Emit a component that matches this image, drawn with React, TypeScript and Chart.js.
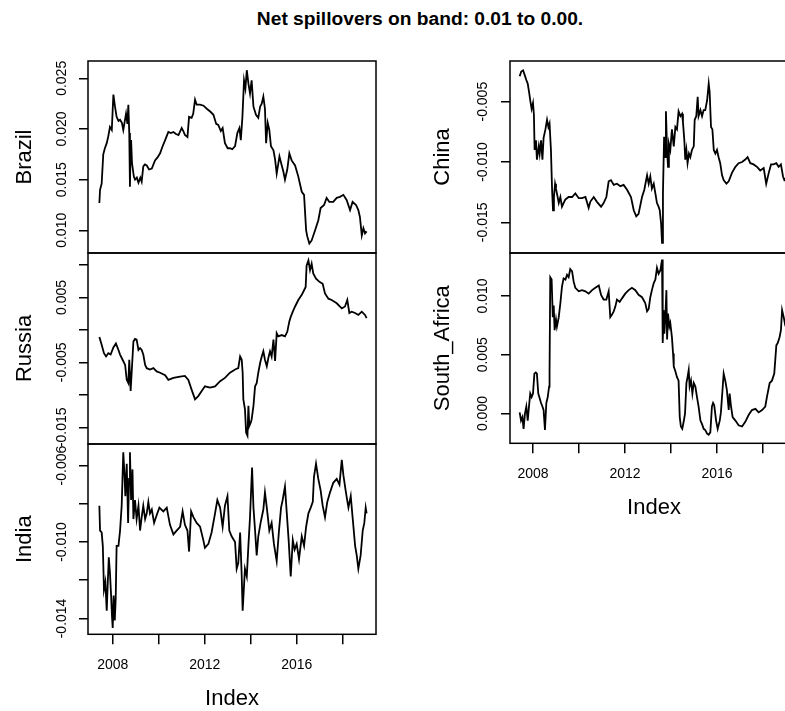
import React, { useEffect, useRef } from 'react';
import { Chart, registerables } from 'chart.js';

Chart.register(...registerables);

const FONT = '"Liberation Sans", Arial, Helvetica, sans-serif';
const MAIN_TITLE = 'Net spillovers on band: 0.01 to 0.00.';
const X_TITLE = 'Index';
const TICK_FONT_SIZE = 14;

// x-axis ticks (years) and the labels R printed (others skipped)
const yearTicks = [2008, 2010, 2012, 2014, 2016, 2018];
const yearLabels = ['2008', '', '2012', '', '2016', ''];

// y-axis ticks per panel
const brazilTicks = [0.01, 0.015, 0.02, 0.025];
const brazilTickLabels = ['0.010', '0.015', '0.020', '0.025'];
const russiaTicks = [-0.015, -0.01, -0.005, 0, 0.005, 0.01];
const russiaTickLabels = ['-0.015', '', '-0.005', '', '0.005', ''];
const indiaTicks = [-0.014, -0.012, -0.01, -0.008, -0.006];
const indiaTickLabels = ['-0.014', '', '-0.010', '', '-0.006'];
const chinaTicks = [-0.015, -0.01, -0.005];
const chinaTickLabels = ['-0.015', '-0.010', '-0.005'];
const safricaTicks = [0, 0.005, 0.01];
const safricaTickLabels = ['0.000', '0.005', '0.010'];

// series: [decimal year, net spillover]
const brazilSeries: [number, number][] = [
  [2007.42,0.0127],[2007.45,0.0140],[2007.52,0.0146],[2007.59,0.0175],[2007.66,0.0181],[2007.74,0.0186],[2007.81,0.0193],[2007.88,0.0202],[2007.96,0.0199],[2008.00,0.0219],[2008.03,0.0234],[2008.10,0.0222],[2008.17,0.0212],[2008.25,0.0208],[2008.32,0.0209],[2008.40,0.0206],[2008.46,0.0199],[2008.52,0.0207],[2008.58,0.0215],[2008.64,0.0205],[2008.68,0.0224],[2008.72,0.0196],[2008.75,0.0143],[2008.78,0.0185],[2008.80,0.0189],[2008.84,0.0166],[2008.87,0.0166],[2008.92,0.0153],[2008.97,0.0150],[2009.05,0.0152],[2009.12,0.0147],[2009.20,0.0152],[2009.26,0.0148],[2009.33,0.0163],[2009.40,0.0165],[2009.48,0.0164],[2009.58,0.0160],[2009.70,0.0161],[2009.84,0.0169],[2009.95,0.0172],[2010.06,0.0176],[2010.17,0.0183],[2010.28,0.0189],[2010.42,0.0197],[2010.53,0.0196],[2010.64,0.0197],[2010.75,0.0195],[2010.86,0.0194],[2011.00,0.0201],[2011.07,0.0198],[2011.14,0.0194],[2011.25,0.0192],[2011.32,0.0212],[2011.43,0.0211],[2011.50,0.0215],[2011.58,0.0229],[2011.65,0.0224],[2011.80,0.0224],[2011.95,0.0223],[2012.09,0.0220],[2012.25,0.0217],[2012.38,0.0214],[2012.50,0.0205],[2012.59,0.0204],[2012.70,0.0198],[2012.78,0.0201],[2012.88,0.0186],[2013.00,0.0181],[2013.10,0.0181],[2013.20,0.0180],[2013.32,0.0183],[2013.42,0.0196],[2013.51,0.0201],[2013.57,0.0189],[2013.64,0.0212],[2013.71,0.0248],[2013.77,0.0240],[2013.83,0.0258],[2013.90,0.0245],[2013.97,0.0235],[2014.04,0.0248],[2014.12,0.0222],[2014.23,0.0214],[2014.33,0.0211],[2014.41,0.0222],[2014.48,0.0225],[2014.55,0.0232],[2014.62,0.0220],[2014.67,0.0186],[2014.74,0.0206],[2014.81,0.0199],[2014.88,0.0183],[2014.99,0.0179],[2015.06,0.0170],[2015.13,0.0156],[2015.25,0.0173],[2015.35,0.0164],[2015.42,0.0158],[2015.49,0.0150],[2015.59,0.0160],[2015.68,0.0176],[2015.78,0.0169],[2015.93,0.0164],[2016.07,0.0153],[2016.15,0.0145],[2016.22,0.0138],[2016.32,0.0135],[2016.41,0.0100],[2016.46,0.0094],[2016.55,0.0087],[2016.65,0.0090],[2016.80,0.0100],[2016.94,0.0110],[2017.04,0.0122],[2017.19,0.0125],[2017.30,0.0132],[2017.42,0.0128],[2017.59,0.0128],[2017.74,0.0132],[2017.88,0.0133],[2018.03,0.0135],[2018.17,0.0130],[2018.32,0.0120],[2018.43,0.0128],[2018.58,0.0125],[2018.68,0.0120],[2018.75,0.0113],[2018.83,0.0095],[2018.90,0.0102],[2018.97,0.0097],[2019.04,0.0099]
];

const russiaSeries: [number, number][] = [
  [2007.42,-0.0011],[2007.52,-0.0023],[2007.62,-0.0036],[2007.71,-0.0041],[2007.81,-0.0036],[2007.91,-0.0038],[2008.03,-0.0027],[2008.14,-0.0021],[2008.25,-0.0031],[2008.32,-0.0038],[2008.43,-0.0046],[2008.54,-0.0054],[2008.61,-0.0077],[2008.68,-0.0082],[2008.72,-0.0046],[2008.78,-0.0094],[2008.84,-0.0056],[2008.90,-0.0018],[2008.97,-0.0014],[2009.04,-0.0015],[2009.12,-0.0031],[2009.19,-0.0028],[2009.26,-0.0031],[2009.33,-0.0038],[2009.41,-0.0054],[2009.48,-0.0059],[2009.62,-0.0061],[2009.77,-0.0059],[2009.91,-0.0064],[2010.06,-0.0066],[2010.28,-0.0070],[2010.42,-0.0077],[2010.64,-0.0074],[2010.93,-0.0072],[2011.14,-0.0071],[2011.29,-0.0077],[2011.43,-0.0092],[2011.58,-0.0107],[2011.72,-0.0102],[2011.87,-0.0094],[2012.01,-0.0087],[2012.23,-0.0089],[2012.45,-0.0087],[2012.67,-0.0079],[2012.88,-0.0074],[2013.10,-0.0066],[2013.32,-0.0061],[2013.46,-0.0059],[2013.54,-0.0041],[2013.61,-0.0046],[2013.65,-0.0066],[2013.68,-0.0107],[2013.75,-0.0122],[2013.80,-0.0158],[2013.86,-0.0163],[2013.90,-0.0117],[2013.94,-0.0148],[2014.00,-0.0143],[2014.04,-0.0138],[2014.12,-0.0117],[2014.19,-0.0087],[2014.26,-0.0082],[2014.33,-0.0066],[2014.41,-0.0051],[2014.48,-0.0041],[2014.55,-0.0033],[2014.62,-0.0046],[2014.70,-0.0056],[2014.77,-0.0043],[2014.84,-0.0033],[2014.91,-0.0041],[2014.99,-0.0015],[2015.06,-0.0048],[2015.13,-0.0005],[2015.20,-0.0010],[2015.35,-0.0008],[2015.49,-0.0010],[2015.59,-0.0003],[2015.68,0.0013],[2015.74,0.0020],[2015.83,0.0028],[2015.93,0.0036],[2016.07,0.0046],[2016.22,0.0054],[2016.32,0.0061],[2016.39,0.0066],[2016.43,0.0099],[2016.51,0.0107],[2016.58,0.0092],[2016.65,0.0102],[2016.72,0.0087],[2016.84,0.0079],[2016.99,0.0074],[2017.13,0.0071],[2017.23,0.0056],[2017.38,0.0048],[2017.52,0.0046],[2017.74,0.0041],[2017.96,0.0033],[2018.10,0.0036],[2018.20,0.0046],[2018.29,0.0026],[2018.39,0.0028],[2018.54,0.0026],[2018.68,0.0023],[2018.83,0.0028],[2018.97,0.0023],[2019.04,0.0018]
];

const indiaSeries: [number, number][] = [
  [2007.42,-0.0081],[2007.45,-0.0094],[2007.52,-0.0095],[2007.57,-0.0102],[2007.62,-0.0125],[2007.68,-0.0121],[2007.74,-0.0136],[2007.78,-0.0123],[2007.83,-0.0108],[2007.88,-0.0116],[2007.93,-0.0128],[2007.97,-0.0139],[2008.00,-0.0145],[2008.04,-0.0128],[2008.09,-0.0141],[2008.13,-0.0130],[2008.17,-0.0102],[2008.25,-0.0102],[2008.32,-0.0094],[2008.39,-0.0081],[2008.46,-0.0053],[2008.51,-0.0064],[2008.55,-0.0076],[2008.61,-0.0059],[2008.67,-0.0090],[2008.71,-0.0067],[2008.75,-0.0053],[2008.80,-0.0078],[2008.86,-0.0062],[2008.90,-0.0088],[2008.97,-0.0078],[2009.04,-0.0088],[2009.12,-0.0081],[2009.19,-0.0094],[2009.26,-0.0087],[2009.33,-0.0081],[2009.41,-0.0088],[2009.48,-0.0085],[2009.55,-0.0079],[2009.62,-0.0085],[2009.70,-0.0083],[2009.80,-0.0090],[2009.91,-0.0086],[2010.03,-0.0082],[2010.20,-0.0084],[2010.35,-0.0082],[2010.49,-0.0091],[2010.64,-0.0096],[2010.78,-0.0094],[2010.93,-0.0092],[2011.04,-0.0084],[2011.14,-0.0091],[2011.25,-0.0094],[2011.32,-0.0105],[2011.41,-0.0084],[2011.51,-0.0087],[2011.65,-0.0090],[2011.80,-0.0092],[2011.94,-0.0099],[2012.01,-0.0103],[2012.16,-0.0101],[2012.30,-0.0095],[2012.45,-0.0085],[2012.55,-0.0078],[2012.67,-0.0082],[2012.78,-0.0092],[2012.88,-0.0081],[2012.99,-0.0076],[2013.07,-0.0094],[2013.17,-0.0097],[2013.32,-0.0100],[2013.39,-0.0114],[2013.46,-0.0111],[2013.54,-0.0095],[2013.61,-0.0118],[2013.65,-0.0136],[2013.75,-0.0114],[2013.83,-0.0118],[2013.90,-0.0102],[2013.97,-0.0087],[2014.06,-0.0061],[2014.12,-0.0082],[2014.19,-0.0094],[2014.26,-0.0107],[2014.33,-0.0097],[2014.43,-0.0090],[2014.55,-0.0083],[2014.62,-0.0074],[2014.70,-0.0082],[2014.81,-0.0094],[2014.91,-0.0090],[2015.01,-0.0101],[2015.13,-0.0110],[2015.23,-0.0094],[2015.32,-0.0082],[2015.39,-0.0078],[2015.49,-0.0071],[2015.57,-0.0085],[2015.65,-0.0099],[2015.74,-0.0118],[2015.83,-0.0099],[2015.91,-0.0104],[2016.00,-0.0101],[2016.10,-0.0109],[2016.22,-0.0097],[2016.32,-0.0102],[2016.41,-0.0092],[2016.51,-0.0085],[2016.61,-0.0082],[2016.70,-0.0079],[2016.75,-0.0066],[2016.84,-0.0059],[2016.94,-0.0067],[2017.04,-0.0073],[2017.13,-0.0081],[2017.23,-0.0087],[2017.33,-0.0079],[2017.45,-0.0074],[2017.59,-0.0069],[2017.74,-0.0067],[2017.86,-0.0070],[2017.96,-0.0057],[2018.03,-0.0065],[2018.14,-0.0074],[2018.25,-0.0082],[2018.35,-0.0076],[2018.43,-0.0087],[2018.54,-0.0102],[2018.61,-0.0107],[2018.68,-0.0114],[2018.78,-0.0107],[2018.87,-0.0094],[2018.94,-0.0090],[2019.00,-0.0082],[2019.04,-0.0085]
];

const chinaSeries: [number, number][] = [
  [2007.42,-0.0029],[2007.49,-0.0025],[2007.57,-0.0024],[2007.64,-0.0028],[2007.71,-0.0032],[2007.77,-0.0035],[2007.83,-0.0042],[2007.88,-0.0049],[2007.94,-0.0056],[2008.00,-0.0051],[2008.04,-0.0061],[2008.07,-0.0090],[2008.13,-0.0082],[2008.17,-0.0098],[2008.25,-0.0087],[2008.29,-0.0093],[2008.35,-0.0082],[2008.41,-0.0098],[2008.46,-0.0080],[2008.54,-0.0073],[2008.61,-0.0065],[2008.67,-0.0071],[2008.72,-0.0068],[2008.78,-0.0090],[2008.83,-0.0123],[2008.87,-0.0140],[2008.91,-0.0129],[2008.96,-0.0118],[2009.00,-0.0122],[2009.04,-0.0126],[2009.12,-0.0134],[2009.19,-0.0129],[2009.26,-0.0137],[2009.33,-0.0134],[2009.41,-0.0131],[2009.55,-0.0129],[2009.70,-0.0129],[2009.84,-0.0126],[2009.99,-0.0130],[2010.13,-0.0130],[2010.28,-0.0129],[2010.42,-0.0138],[2010.49,-0.0133],[2010.64,-0.0129],[2010.78,-0.0133],[2010.96,-0.0137],[2011.07,-0.0134],[2011.19,-0.0129],[2011.29,-0.0116],[2011.39,-0.0115],[2011.51,-0.0119],[2011.65,-0.0118],[2011.80,-0.0120],[2011.94,-0.0119],[2012.09,-0.0123],[2012.26,-0.0129],[2012.38,-0.0140],[2012.49,-0.0145],[2012.59,-0.0143],[2012.74,-0.0129],[2012.84,-0.0123],[2012.96,-0.0111],[2013.03,-0.0118],[2013.10,-0.0112],[2013.17,-0.0122],[2013.25,-0.0118],[2013.32,-0.0126],[2013.39,-0.0134],[2013.46,-0.0137],[2013.51,-0.0140],[2013.57,-0.0151],[2013.61,-0.0167],[2013.65,-0.0126],[2013.70,-0.0079],[2013.74,-0.0096],[2013.78,-0.0058],[2013.83,-0.0090],[2013.87,-0.0104],[2013.91,-0.0085],[2013.97,-0.0090],[2014.04,-0.0073],[2014.12,-0.0087],[2014.19,-0.0071],[2014.26,-0.0073],[2014.33,-0.0058],[2014.41,-0.0062],[2014.48,-0.0060],[2014.52,-0.0067],[2014.58,-0.0082],[2014.62,-0.0098],[2014.67,-0.0090],[2014.72,-0.0101],[2014.78,-0.0093],[2014.84,-0.0096],[2014.91,-0.0090],[2014.99,-0.0087],[2015.03,-0.0065],[2015.10,-0.0062],[2015.16,-0.0046],[2015.20,-0.0062],[2015.28,-0.0057],[2015.35,-0.0062],[2015.42,-0.0057],[2015.49,-0.0057],[2015.57,-0.0049],[2015.64,-0.0035],[2015.68,-0.0042],[2015.74,-0.0071],[2015.80,-0.0073],[2015.86,-0.0090],[2015.93,-0.0093],[2016.00,-0.0090],[2016.07,-0.0096],[2016.14,-0.0101],[2016.22,-0.0111],[2016.29,-0.0115],[2016.41,-0.0118],[2016.51,-0.0116],[2016.65,-0.0109],[2016.80,-0.0104],[2016.94,-0.0101],[2017.09,-0.0100],[2017.23,-0.0098],[2017.33,-0.0096],[2017.45,-0.0101],[2017.59,-0.0102],[2017.74,-0.0104],[2017.88,-0.0107],[2018.03,-0.0105],[2018.14,-0.0118],[2018.25,-0.0109],[2018.35,-0.0102],[2018.46,-0.0102],[2018.58,-0.0101],[2018.68,-0.0104],[2018.78,-0.0102],[2018.87,-0.0112],[2018.93,-0.0115],[2019.04,-0.0113]
];

const safricaSeries: [number, number][] = [
  [2007.42,0.0001],[2007.48,-0.0006],[2007.54,-0.0003],[2007.59,-0.0013],[2007.65,0.0000],[2007.71,0.0006],[2007.77,-0.0006],[2007.83,0.0007],[2007.88,0.0017],[2007.94,0.0014],[2008.00,0.0017],[2008.06,0.0034],[2008.12,0.0035],[2008.17,0.0034],[2008.23,0.0017],[2008.29,0.0013],[2008.35,0.0009],[2008.41,0.0006],[2008.46,0.0003],[2008.52,-0.0014],[2008.58,0.0009],[2008.64,0.0014],[2008.70,0.0023],[2008.72,0.0036],[2008.75,0.0116],[2008.81,0.0114],[2008.86,0.0082],[2008.90,0.0092],[2008.94,0.0071],[2009.00,0.0080],[2009.04,0.0074],[2009.12,0.0082],[2009.19,0.0094],[2009.26,0.0108],[2009.33,0.0115],[2009.41,0.0114],[2009.48,0.0118],[2009.55,0.0116],[2009.62,0.0123],[2009.70,0.0121],[2009.77,0.0112],[2009.84,0.0107],[2009.99,0.0104],[2010.13,0.0105],[2010.28,0.0104],[2010.42,0.0102],[2010.57,0.0105],[2010.71,0.0107],[2010.86,0.0109],[2010.96,0.0101],[2011.07,0.0097],[2011.19,0.0097],[2011.29,0.0104],[2011.36,0.0082],[2011.43,0.0084],[2011.51,0.0087],[2011.58,0.0091],[2011.65,0.0097],[2011.77,0.0095],[2011.87,0.0098],[2012.01,0.0102],[2012.16,0.0105],[2012.30,0.0107],[2012.45,0.0105],[2012.59,0.0101],[2012.74,0.0099],[2012.88,0.0094],[2012.96,0.0087],[2013.03,0.0089],[2013.10,0.0099],[2013.17,0.0105],[2013.25,0.0111],[2013.32,0.0114],[2013.39,0.0124],[2013.46,0.0119],[2013.54,0.0122],[2013.61,0.0131],[2013.64,0.0060],[2013.68,0.0088],[2013.71,0.0068],[2013.75,0.0080],[2013.80,0.0105],[2013.83,0.0063],[2013.87,0.0085],[2013.93,0.0074],[2013.97,0.0077],[2014.04,0.0065],[2014.09,0.0051],[2014.12,0.0040],[2014.19,0.0036],[2014.26,0.0031],[2014.33,0.0028],[2014.38,-0.0003],[2014.43,-0.0011],[2014.49,-0.0013],[2014.55,-0.0007],[2014.61,0.0000],[2014.67,0.0026],[2014.72,0.0031],[2014.77,0.0037],[2014.81,0.0023],[2014.87,0.0028],[2014.93,0.0017],[2014.99,0.0026],[2015.06,0.0023],[2015.13,0.0014],[2015.20,0.0006],[2015.28,-0.0006],[2015.35,-0.0009],[2015.42,-0.0013],[2015.49,-0.0014],[2015.57,-0.0017],[2015.64,-0.0018],[2015.71,-0.0016],[2015.78,0.0006],[2015.83,0.0009],[2015.88,0.0007],[2015.96,-0.0006],[2016.03,-0.0013],[2016.12,-0.0006],[2016.17,0.0001],[2016.25,0.0023],[2016.29,0.0034],[2016.36,0.0028],[2016.43,0.0020],[2016.51,0.0003],[2016.55,0.0017],[2016.61,0.0006],[2016.68,-0.0003],[2016.80,-0.0006],[2016.94,-0.0010],[2017.09,-0.0011],[2017.23,-0.0007],[2017.38,-0.0001],[2017.52,0.0003],[2017.67,0.0004],[2017.81,0.0001],[2017.96,0.0003],[2018.10,0.0006],[2018.17,0.0014],[2018.29,0.0026],[2018.39,0.0028],[2018.49,0.0034],[2018.58,0.0058],[2018.64,0.0060],[2018.72,0.0065],[2018.78,0.0071],[2018.83,0.0088],[2018.90,0.0082],[2018.97,0.0075],[2019.04,0.0072]
];

type Panel = {
  name: string;
  series: [number, number][];
  ticks: number[];
  tickLabels: string[];
  yMin: number;
  yMax: number;
  xMin: number;
  xMax: number;
  box: [number, number, number, number];
  axisLeft: number;
  titlePad: number;
  labelOffset: number;
  showX: boolean;
};

const CANVAS_W = 800;
const CANVAS_H = 711;
const X_AXIS_H = 76.7;

const panels: Panel[] = [
  { name: 'Brazil', series: brazilSeries, ticks: brazilTicks, tickLabels: brazilTickLabels, yMin: 0.00776, yMax: 0.02671, xMin: 2006.926, xMax: 2019.448, box: [88, 61, 376, 253], axisLeft: 0, titlePad: 14, labelOffset: 25.5, showX: false },
  { name: 'Russia', series: russiaSeries, ticks: russiaTicks, tickLabels: russiaTickLabels, yMin: -0.01758, yMax: 0.01184, xMin: 2006.926, xMax: 2019.448, box: [88, 253, 376, 444], axisLeft: 0, titlePad: 14, labelOffset: 25.5, showX: false },
  { name: 'India', series: indiaSeries, ticks: indiaTicks, tickLabels: indiaTickLabels, yMin: -0.01483, yMax: -0.00487, xMin: 2006.926, xMax: 2019.448, box: [88, 444, 376, 634.3], axisLeft: 0, titlePad: 14, labelOffset: 25.5, showX: true },
  { name: 'China', series: chinaSeries, ticks: chinaTicks, tickLabels: chinaTickLabels, yMin: -0.01754, yMax: -0.00163, xMin: 2007.0, xMax: 2019.522, box: [510, 61, 798, 253], axisLeft: 420, titlePad: 12.3, labelOffset: 26.5, showX: false },
  { name: 'South_Africa', series: safricaSeries, ticks: safricaTicks, tickLabels: safricaTickLabels, yMin: -0.00253, yMax: 0.01366, xMin: 2007.0, xMax: 2019.522, box: [510, 253, 798, 443.3], axisLeft: 420, titlePad: 12.3, labelOffset: 26.5, showX: true },
];

const rBoxPlugin = {
  id: 'rbox',
  afterDraw(chart: any, _args: any, opts: any) {
    const { ctx, chartArea: a } = chart;
    const ys = chart.scales.y;
    ctx.save();
    ctx.strokeStyle = '#000';
    ctx.lineWidth = 1.5;
    ctx.strokeRect(a.left, a.top, a.right - a.left, a.bottom - a.top);
    ctx.fillStyle = '#000';
    ctx.font = `${TICK_FONT_SIZE}px ${FONT}`;
    ctx.textAlign = 'center';
    ctx.textBaseline = 'middle';
    ys.ticks.forEach((t: any, i: number) => {
      const label = t.label != null ? String(t.label) : (opts.labels?.[i] ?? '');
      if (!label) return;
      const py = ys.getPixelForValue(t.value);
      ctx.save();
      ctx.translate(a.left - opts.labelOffset, py);
      ctx.rotate(-Math.PI / 2);
      ctx.fillText(label, 0, 0);
      ctx.restore();
    });
    ctx.restore();
  },
};

function makeChart(canvas: HTMLCanvasElement, p: Panel) {
  const [l, t, r, b] = p.box;
  const axisW = l - p.axisLeft;
  const padBottom = p.showX ? CANVAS_H - b - X_AXIS_H : CANVAS_H - b;
  return new Chart(canvas, {
    type: 'line',
    data: {
      datasets: [
        {
          data: p.series.map(([x, y]) => ({ x, y })),
          borderColor: '#000',
          borderWidth: 1.8,
          pointRadius: 0,
          tension: 0,
          fill: false,
        },
      ],
    },
    options: {
      animation: false,
      responsive: false,
      maintainAspectRatio: false,
      devicePixelRatio: 1,
      events: [],
      layout: { padding: { left: p.axisLeft, top: t, right: CANVAS_W - r, bottom: padBottom } },
      plugins: {
        legend: { display: false },
        tooltip: { enabled: false },
        title: { display: false },
        rbox: { labelOffset: p.labelOffset, labels: p.tickLabels },
      } as any,
      scales: {
        x: {
          type: 'linear',
          min: p.xMin,
          max: p.xMax,
          display: p.showX,
          position: 'bottom',
          afterBuildTicks: (s: any) => {
            s.ticks = yearTicks.map((v) => ({ value: v }));
          },
          afterFit: (s: any) => {
            s.height = p.showX ? X_AXIS_H : 0;
          },
          ticks: {
            autoSkip: false,
            maxRotation: 0,
            minRotation: 0,
            padding: 12.3,
            color: '#000',
            font: { family: FONT, size: TICK_FONT_SIZE },
            callback: (_v: any, i: number) => yearLabels[i] ?? '',
          },
          grid: { display: true, drawOnChartArea: false, drawTicks: true, tickLength: 10, color: '#000', lineWidth: 1.5 },
          border: { display: false },
          title: {
            display: true,
            text: X_TITLE,
            color: '#000',
            font: { family: FONT, size: 22, lineHeight: 1 },
            padding: { top: 0, bottom: 0.7 },
          },
        } as any,
        y: {
          type: 'linear',
          min: p.yMin,
          max: p.yMax,
          position: 'left',
          afterBuildTicks: (s: any) => {
            s.ticks = p.ticks.map((v) => ({ value: v }));
          },
          afterFit: (s: any) => {
            s.width = axisW;
          },
          ticks: {
            display: false,
            callback: (_v: any, i: number) => p.tickLabels[i] ?? '',
          },
          grid: { display: true, drawOnChartArea: false, drawTicks: true, tickLength: 9, color: '#000', lineWidth: 1.5 },
          border: { display: false },
          title: {
            display: true,
            text: p.name,
            color: '#000',
            font: { family: FONT, size: 22, lineHeight: 1 },
            padding: { top: p.titlePad, bottom: 0 },
          },
        } as any,
      },
    },
    plugins: [rBoxPlugin as any],
  });
}

function PanelCanvas({ panel }: { panel: Panel }) {
  const ref = useRef<HTMLCanvasElement>(null);
  useEffect(() => {
    if (!ref.current) return;
    const chart = makeChart(ref.current, panel);
    return () => chart.destroy();
  }, [panel]);
  return (
    <canvas
      ref={ref}
      width={CANVAS_W}
      height={CANVAS_H}
      style={{ position: 'absolute', left: 0, top: 0, width: CANVAS_W, height: CANVAS_H }}
    />
  );
}

export default function App() {
  return (
    <div
      style={{
        position: 'absolute',
        left: 0,
        top: 0,
        width: 785,
        height: 711,
        overflow: 'hidden',
        background: '#fff',
      }}
    >
      <div
        style={{
          position: 'absolute',
          left: 0,
          top: 9.2,
          width: 840,
          textAlign: 'center',
          fontFamily: FONT,
          fontWeight: 'bold',
          fontSize: 19.2,
          lineHeight: '20px',
          color: '#000',
          whiteSpace: 'nowrap',
        }}
      >
        {MAIN_TITLE}
      </div>
      {panels.map((p) => (
        <PanelCanvas key={p.name} panel={p} />
      ))}
    </div>
  );
}
